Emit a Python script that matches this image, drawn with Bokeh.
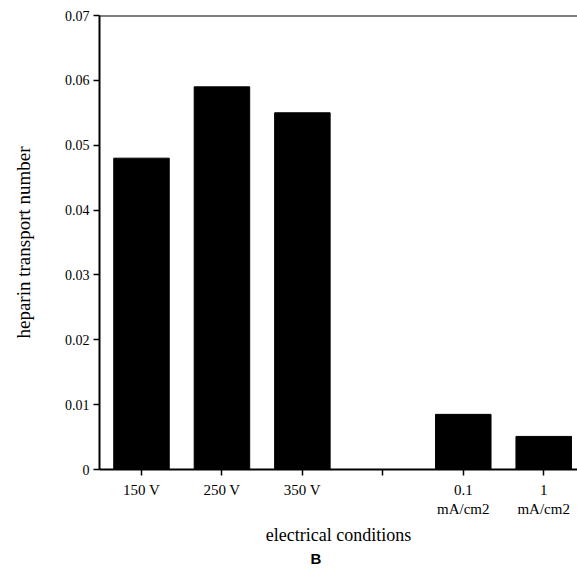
from bokeh.plotting import figure
from bokeh.models import FixedTicker, NumeralTickFormatter, Span, Title, Range1d, ColumnDataSource
from bokeh.embed import file_html
from bokeh.resources import INLINE
import numpy as np

# ---- data ----
conditions = ["150 V", "250 V", "350 V", "", "0.1\nmA/cm2", "1\nmA/cm2"]
transport_number = [0.048, 0.059, 0.055, np.nan, 0.0085, 0.0051]
y_ticks = [0, 0.01, 0.02, 0.03, 0.04, 0.05, 0.06, 0.07]

positions = list(range(1, len(conditions) + 1))
src = ColumnDataSource(dict(x=positions, top=transport_number))

SERIF = "Liberation Serif"

p = figure(width=577, height=569, output_backend="svg", toolbar_location=None,
           x_range=Range1d(0.478, 6.42), y_range=Range1d(0, 0.07),
           min_border_left=99, min_border_right=0, min_border_top=15, min_border_bottom=100)
p.outline_line_color = None
p.grid.grid_line_color = None
p.background_fill_color = "white"
p.border_fill_color = "white"

p.vbar(x="x", top="top", width=0.69, source=src, fill_color="black", line_color="black")

# top border line
p.add_layout(Span(location=0.07, dimension="width", line_color="black", line_width=2))

# y axis
ya = p.yaxis[0]
ya.ticker = FixedTicker(ticks=y_ticks)
ya.formatter = NumeralTickFormatter(format="0.[00]")
ya.axis_line_width = 2
ya.major_tick_line_width = 1.5
ya.major_tick_out = 6
ya.major_tick_in = 0
ya.minor_tick_line_color = None
ya.major_label_text_font = SERIF
ya.major_label_text_font_size = "14px"
ya.major_label_text_color = "black"
ya.major_label_standoff = 4
ya.axis_label = "heparin transport number"
ya.axis_label_text_font = SERIF
ya.axis_label_text_font_size = "19px"
ya.axis_label_text_font_style = "normal"
ya.axis_label_text_color = "black"
ya.axis_label_standoff = 28

# x axis
xa = p.xaxis[0]
xa.ticker = FixedTicker(ticks=positions)
xa.major_label_overrides = {pos: lab for pos, lab in zip(positions, conditions)}
xa.axis_line_width = 2
xa.major_tick_line_width = 1.5
xa.major_tick_out = 6
xa.major_tick_in = 0
xa.minor_tick_line_color = None
xa.major_label_text_font = SERIF
xa.major_label_text_font_size = "15px"
xa.major_label_text_color = "black"
xa.major_label_standoff = 6
xa.axis_label = "electrical conditions"
xa.axis_label_text_font = SERIF
xa.axis_label_text_font_size = "18px"
xa.axis_label_text_font_style = "normal"
xa.axis_label_text_color = "black"
xa.axis_label_standoff = 5

p.add_layout(Title(text="B", align="left", offset=211, text_font="Liberation Sans",
                   text_font_style="bold", text_font_size="15px", text_color="black",
                   standoff=0), "below")

open("out.html", "w").write(file_html(p, INLINE))
